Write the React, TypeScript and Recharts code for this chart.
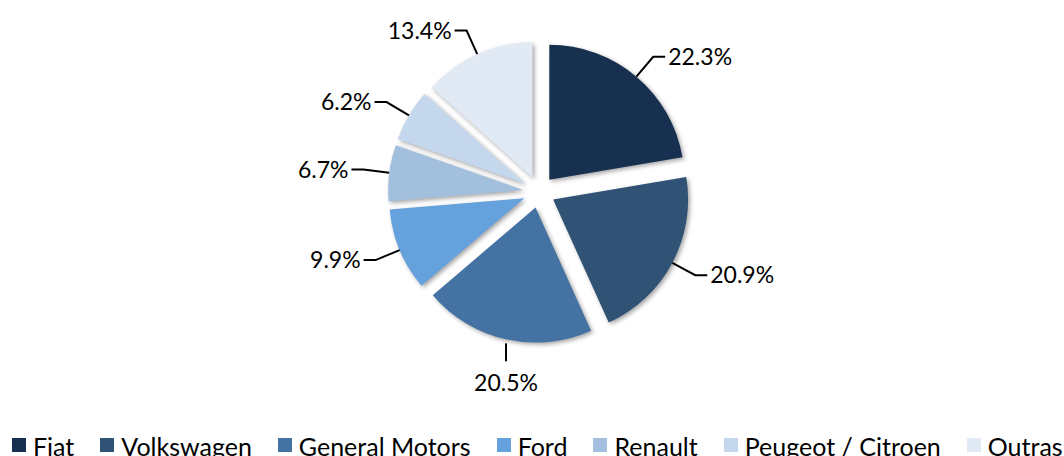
import { PieChart, Pie, Cell, Sector, Legend } from "recharts";

const brands = ["Fiat", "Volkswagen", "General Motors", "Ford", "Renault", "Peugeot / Citroen", "Outras"];
const shares = [22.3, 20.9, 20.5, 9.9, 6.7, 6.2, 13.4];
const COLORS = ["#17304f", "#2f5275", "#4472a2", "#65a1dc", "#a3bfde", "#c5d7ec", "#e1e9f4"];

const data = brands.map((name, i) => ({ name, value: shares[i] }));

const RADIAN = Math.PI / 180;
const EXPLODE = 16;
const FONT = "Lato, 'Open Sans', sans-serif";

// push every slice out along its mid angle
const explodedSlice = (props: any) => {
  const ux = Math.cos(props.midAngle * RADIAN);
  const uy = -Math.sin(props.midAngle * RADIAN);
  return (
    <Sector
      {...props}
      cx={props.cx + EXPLODE * ux}
      cy={props.cy + EXPLODE * uy}
      stroke="none"
      style={{ filter: "drop-shadow(2px 2px 2px rgba(0,0,0,0.35))" }}
    />
  );
};

const renderLabel = (props: any) => {
  const { cx, cy, midAngle, outerRadius, value, index } = props;
  const ux = Math.cos(midAngle * RADIAN);
  const uy = -Math.sin(midAngle * RADIAN);
  const sx = cx + EXPLODE * ux;
  const sy = cy + EXPLODE * uy;
  const x0 = sx + outerRadius * ux;
  const y0 = sy + outerRadius * uy;
  const text = `${value.toFixed(1)}%`;

  // bottom slice: straight line down, text below
  if (Math.abs(ux) < 0.35 && uy > 0) {
    return (
      <g key={`lbl-${index}`}>
        <path d={`M${x0},${y0 + 4}L${x0},${y0 + 22}`} stroke="#000" strokeWidth={2} fill="none" />
        <text x={x0} y={y0 + 52} textAnchor="middle" fontFamily={FONT} fontSize={23} fill="#000">
          {text}
        </text>
      </g>
    );
  }

  const side = ux >= 0 ? 1 : -1;
  const ex = x0 + 26 * ux;
  const ey = y0 + 26 * uy;
  const hx = ex + 12 * side;
  return (
    <g key={`lbl-${index}`}>
      <path d={`M${x0},${y0}L${ex},${ey}L${hx},${ey}`} stroke="#000" strokeWidth={2} fill="none" />
      <text
        x={hx + 3 * side}
        y={ey}
        dy="0.36em"
        textAnchor={side > 0 ? "start" : "end"}
        fontFamily={FONT}
        fontSize={23}
        fill="#000"
      >
        {text}
      </text>
    </g>
  );
};

const renderLegend = () => (
  <div style={{ display: "flex", flexWrap: "nowrap", whiteSpace: "nowrap", fontFamily: FONT, fontSize: 25, lineHeight: "25px", color: "#000" }}>
    {brands.map((name, i) => (
      <div key={name} style={{ display: "flex", alignItems: "flex-start", marginRight: 26 }}>
        <span style={{ display: "inline-block", width: 14, height: 14, marginTop: 4, marginRight: 7, background: COLORS[i] }} />
        <span>{name}</span>
      </div>
    ))}
  </div>
);

export default function App() {
  return (
    <div style={{ width: 1064, height: 456, background: "#fff" }}>
      <style>{`body{margin:0;}`}</style>
      <PieChart width={1064} height={456}>
        <Pie
          data={data}
          dataKey="value"
          nameKey="name"
          cx={534}
          cy={187}
          outerRadius={135}
          startAngle={90}
          endAngle={-270}
          stroke="none"
          label={renderLabel}
          labelLine={false}
          shape={explodedSlice}
          activeShape={explodedSlice}
          inactiveShape={explodedSlice}
          isAnimationActive={false}
        >
          {data.map((d, i) => (
            <Cell key={d.name} fill={COLORS[i]} />
          ))}
        </Pie>
        <Legend content={renderLegend} wrapperStyle={{ top: 434, left: 12, width: 1100 }} />
      </PieChart>
    </div>
  );
}
